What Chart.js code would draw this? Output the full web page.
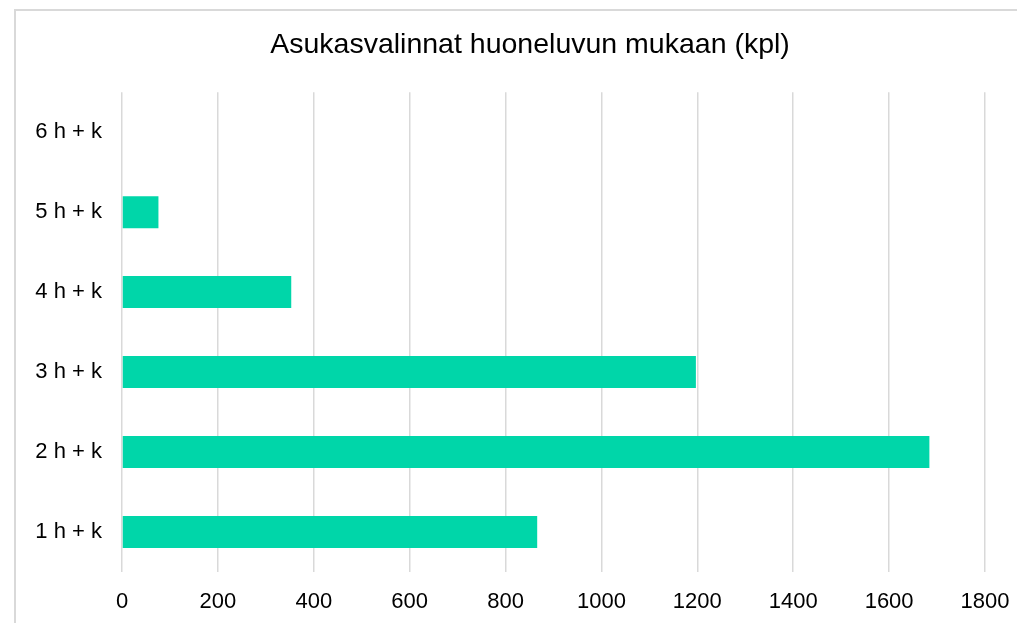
<!DOCTYPE html>
<html>
<head>
<meta charset="utf-8">
<script src="https://cdn.jsdelivr.net/npm/chart.js@4/dist/chart.umd.min.js"></script>
<style>
  html, body { margin: 0; padding: 0; background: #fff; overflow: hidden; }
  .frame { position: absolute; left: 14px; top: 9px; width: 1100px; height: 700px; border: 2px solid #d9d9d9; }
  .wrap { position: absolute; left: 0; top: 0; width: 1017px; height: 623px; }
</style>
</head>
<body>
<div class="frame"></div>
<div class="wrap"><canvas id="myChart" width="1017" height="623"></canvas></div>
<script>
  // room counts, bottom to top
  let categories = ["1 h + k", "2 h + k", "3 h + k", "4 h + k", "5 h + k", "6 h + k"];
  let selections = [866, 1684, 1197, 353, 76, 0];
  let xTicks = [0, 200, 400, 600, 800, 1000, 1200, 1400, 1600, 1800];

  let ctx = document.getElementById('myChart').getContext('2d');

  // title sits a bit right of the canvas centre in the original
  let shiftTitle = {
    id: 'shiftTitle',
    afterLayout: function(chart) {
      if (chart.titleBlock) {
        chart.titleBlock.left = 75;
        chart.titleBlock.right = chart.chartArea.right;
      }
    }
  };

  let chart = new Chart(ctx, {
    type: 'bar',
    data: {
      labels: categories,
      datasets: [{
        label: "kpl",
        backgroundColor: '#00d6a9',
        borderWidth: 0,
        data: selections,
        barPercentage: 0.4,
        categoryPercentage: 1,
      }]
    },
    options: {
      indexAxis: 'y',
      responsive: false,
      animation: false,
      layout: {
        padding: { left: 0, right: 32, top: 0, bottom: 8 }
      },
      plugins: {
        legend: { display: false },
        tooltip: { enabled: false },
        title: {
          display: true,
          text: 'Asukasvalinnat huoneluvun mukaan (kpl)',
          color: '#000',
          font: { family: 'Liberation Sans, Arial, sans-serif', size: 28.5, weight: 'normal' },
          padding: { top: 28, bottom: 30 }
        }
      },
      scales: {
        x: {
          min: xTicks[0],
          max: xTicks[xTicks.length - 1],
          afterBuildTicks: function(scale) {
            scale.ticks = xTicks.map(function(v) { return { value: v }; });
          },
          afterFit: function(scale) {
            scale.height = 43;
            scale.paddingLeft = 0;
            scale.paddingRight = 0;
          },
          grid: { color: '#d9d9d9', lineWidth: 1.5, drawTicks: false },
          border: { display: false },
          ticks: {
            color: '#000',
            padding: 17,
            font: { family: 'Liberation Sans, Arial, sans-serif', size: 22 },
            callback: function(v) { return String(v); }
          }
        },
        y: {
          reverse: true,
          grid: { display: false, drawTicks: false },
          border: { display: false },
          afterFit: function(scale) { scale.width = 122; },
          ticks: {
            color: '#000',
            padding: 20,
            font: { family: 'Liberation Sans, Arial, sans-serif', size: 22 }
          }
        }
      }
    },
    plugins: [shiftTitle]
  });
</script>
</body>
</html>
